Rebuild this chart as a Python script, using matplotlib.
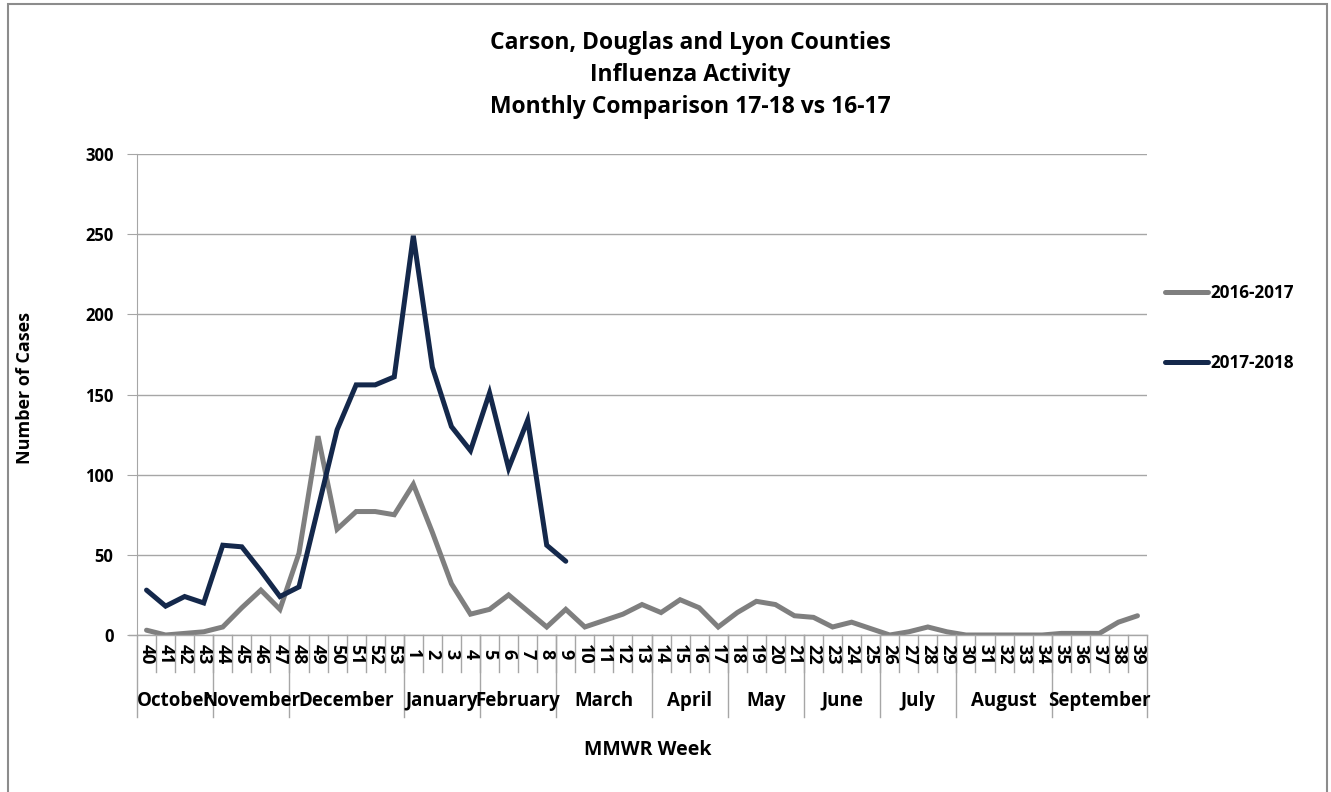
import numpy as np
import matplotlib.pyplot as plt
from matplotlib.patches import Rectangle

plt.rcParams["font.family"] = ["Open Sans", "DejaVu Sans"]
plt.rcParams["font.weight"] = "bold"

weeks = [str(w) for w in list(range(40, 54)) + list(range(1, 40))]
months = ["October", "November", "December", "January", "February", "March",
          "April", "May", "June", "July", "August", "September"]
weeks_per_month = [4, 4, 6, 4, 4, 5, 4, 4, 4, 4, 5, 5]

cases_1617 = [3, 0, 1, 2, 5, 17, 28, 16, 51, 124, 66, 77, 77, 75,
              94, 64, 32, 13, 16, 25, 15, 5, 16, 5, 9, 13, 19, 14, 22, 17, 5,
              14, 21, 19, 12, 11, 5, 8, 4, 0, 2, 5, 2, 0, 0, 0, 0, 0,
              1, 1, 1, 8, 12]
cases_1718 = [28, 18, 24, 20, 56, 55, 40, 24, 30, 79, 128, 156, 156, 161,
              249, 167, 130, 115, 151, 104, 134, 56, 46]

GRAY = "#7f7f7f"
NAVY = "#14284b"
GRID = "#a6a6a6"

fig = plt.figure(figsize=(13.31, 7.92), dpi=100)
ax = fig.add_axes([137 / 1331, 1 - 635 / 792, 1010 / 1331, 481 / 792])

x = np.arange(len(weeks))
ax.plot(x, cases_1617, color=GRAY, lw=3.6, solid_joinstyle="miter",
        solid_capstyle="round", label="2016-2017")
ax.plot(x[:len(cases_1718)], cases_1718, color=NAVY, lw=3.6,
        solid_joinstyle="miter", solid_capstyle="round", label="2017-2018")

ax.set_xlim(-0.5, len(weeks) - 0.5)
ax.set_ylim(0, 300)
ax.set_yticks(range(0, 301, 50))
ax.yaxis.grid(True, color=GRID, lw=1)
ax.set_axisbelow(True)
for side in ["top", "right", "bottom"]:
    ax.spines[side].set_visible(False)
ax.spines["left"].set_color(GRID)
ax.axhline(0, color=GRID, lw=1, xmin=-8 / 1010, clip_on=False)
ax.tick_params(axis="y", length=7, color=GRID, labelsize=12, pad=10)
ax.set_xticks([])

# multi-level category axis: week numbers, then month groups
trans = ax.get_xaxis_transform()
for i, w in enumerate(weeks):
    ax.text(i, -0.04, w, transform=trans, rotation=270, ha="center", va="center",
            fontsize=13, fontweight="bold")
for i in range(1, len(weeks)):
    ax.plot([i - 0.5, i - 0.5], [0, -0.077], transform=trans, color=GRID,
            lw=1, clip_on=False)
edges = np.concatenate([[0], np.cumsum(weeks_per_month)]) - 0.5
for e in edges:
    ax.plot([e, e], [0, -0.17], transform=trans, color=GRID, lw=1, clip_on=False)
for m, a, b in zip(months, edges[:-1], edges[1:]):
    ax.text((a + b) / 2, -0.137, m, transform=trans, ha="center", va="center",
            fontsize=13.5, fontweight="bold")

fig.text(690 / 1331, 1 - 75 / 792,
         "Carson, Douglas and Lyon Counties\nInfluenza Activity\n"
         "Monthly Comparison 17-18 vs 16-17",
         ha="center", va="center", fontsize=16.5, fontweight="bold", linespacing=1.42)
fig.text(25 / 1331, 1 - 388 / 792, "Number of Cases", rotation=90,
         ha="center", va="center", fontsize=13, fontweight="bold")
fig.text(648 / 1331, 1 - 750 / 792, "MMWR Week", ha="center", va="center",
         fontsize=14, fontweight="bold")

fig.legend(loc="center left", bbox_to_anchor=(1150 / 1331, 1 - 328 / 792),
           frameon=False, fontsize=12.3, handlelength=2.5, handletextpad=0.15,
           labelspacing=3.1)

fig.patches.append(Rectangle((8 / 1331, -0.01), 1319 / 1331, 1 - 4 / 792 + 0.01,
                             transform=fig.transFigure, fill=False,
                             edgecolor="#8c8c8c", lw=1.5))

fig.savefig("out.png", dpi=100)
